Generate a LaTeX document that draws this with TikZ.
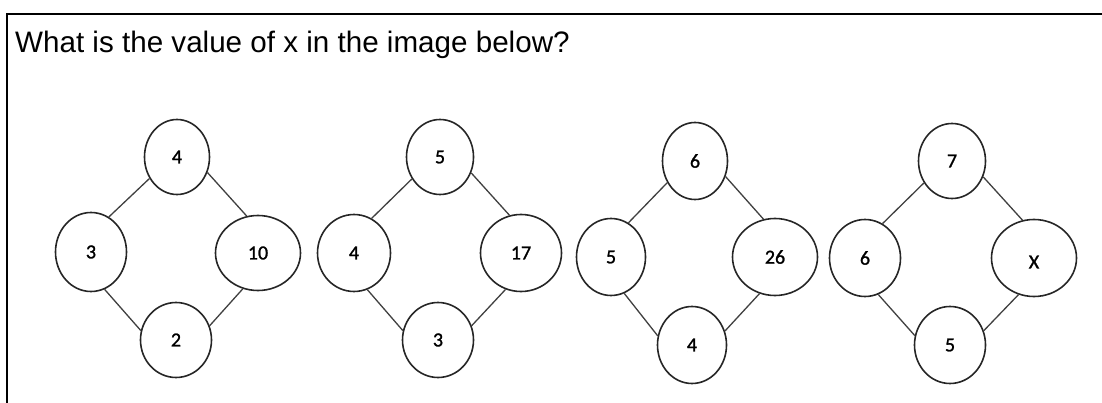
\documentclass[tikz,border=0pt]{standalone}
\usepackage{fontspec}
\setmainfont{Liberation Sans}
\newfontfamily\numfont[FakeBold=1.2]{Carlito}
\usetikzlibrary{shapes.geometric}
\tikzset{
  ring/.style={ellipse, draw=black!85, line width=1.6pt, inner sep=0pt,
    font=\numfont\fontsize{20}{24}\selectfont, text=black},
  link/.style={draw=black!75, line width=1.3pt},
  frame/.style={line width=2pt, draw=black}
}
\begin{document}
\begin{tikzpicture}[x=1pt,y=-1pt]
\useasboundingbox (0,0) rectangle (1102,403);
\fill[white] (0,0) rectangle (1102,403);
\draw[frame] (6.5,403) -- (6.5,14.5) -- (1102,14.5);
\node[anchor=base west, inner sep=0pt, font=\fontsize{29.6}{34}\selectfont] (q) at (15,53)
  {What is the value of x in the image below?};

% first diamond
\node[ring, minimum width=65pt, minimum height=75pt] (g1t) at (177,157) {4};
\node[ring, minimum width=71pt, minimum height=79pt] (g1l) at (91,252) {3};
\node[ring, minimum width=85pt, minimum height=75pt] (g1r) at (258,253) {10};
\node[ring, minimum width=71pt, minimum height=75pt] (g1b) at (176,340) {2};
% second diamond
\node[ring, minimum width=67pt, minimum height=75pt] (g2t) at (440,157) {5};
\node[ring, minimum width=73pt, minimum height=77pt] (g2l) at (354,253) {4};
\node[ring, minimum width=81pt, minimum height=77pt] (g2r) at (521,253) {17};
\node[ring, minimum width=71pt, minimum height=75pt] (g2b) at (438,340) {3};
% third diamond
\node[ring, minimum width=65pt, minimum height=77pt] (g3t) at (695,161) {6};
\node[ring, minimum width=69pt, minimum height=77pt] (g3l) at (611,257) {5};
\node[ring, minimum width=85pt, minimum height=77pt] (g3r) at (775,257) {26};
\node[ring, minimum width=69pt, minimum height=77pt] (g3b) at (692,345) {4};
% fourth diamond
\node[ring, minimum width=67pt, minimum height=75pt] (g4t) at (952,161) {7};
\node[ring, minimum width=71pt, minimum height=77pt] (g4l) at (865,258) {6};
\node[ring, minimum width=85pt, minimum height=77pt] (g4r) at (1034,258) {};
\node[font=\numfont\fontsize{20}{24}\selectfont, text=black] (g4x) at (1034,262) {X};
\node[ring, minimum width=71pt, minimum height=77pt] (g4b) at (950,345) {5};

\foreach \g in {g1,g2,g3,g4} {
  \draw[link] (\g t.218) -- (\g l.63);
  \draw[link] (\g t.333) -- (\g r.107);
  \draw[link] (\g l.290) -- (\g b.165);
  \draw[link] (\g r.247) -- (\g b.23);
}
\end{tikzpicture}
\end{document}
